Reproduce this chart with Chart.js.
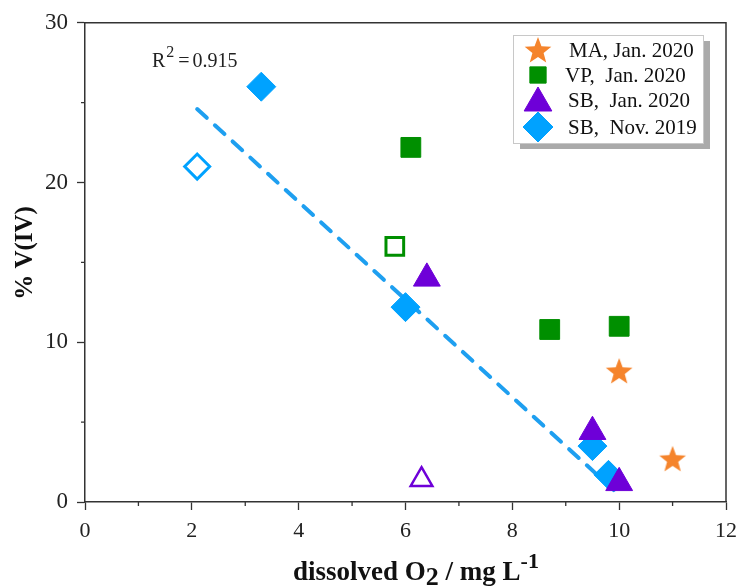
<!DOCTYPE html>
<html>
<head>
<meta charset="utf-8">
<script src="https://cdn.jsdelivr.net/npm/chart.js@4.4.1/dist/chart.umd.min.js"></script>
<style>
  html, body { margin: 0; padding: 0; background: #fff; }
  #wrap { width: 737px; height: 587px; }
</style>
</head>
<body>
<div id="wrap"><canvas id="o2Chart" width="737" height="587"></canvas></div>
<script>
// data
const maX = [10, 11];
const maY = [8.2, 2.7];

const vpX = [6.1, 8.7, 10.0, 5.8];
const vpY = [22.2, 10.8, 11.0, 16.0];
const vpOpen = [false, false, false, true];

const sbJanX = [6.4, 9.5, 10.0, 6.3];
const sbJanY = [14.0, 4.4, 1.2, 1.4];
const sbJanOpen = [false, false, false, true];

const sbNovX = [3.3, 6.0, 9.5, 9.8, 2.1];
const sbNovY = [26.0, 12.2, 3.5, 1.7, 21.0];
const sbNovOpen = [false, false, false, false, true];

// linear fit (dashed line), end points
const fitX = [2.1, 9.9];
const fitY = [24.6, 0.75];

const legendLabels = ['MA, Jan. 2020', 'VP,  Jan. 2020', 'SB,  Jan. 2020', 'SB,  Nov. 2019'];
const xTicks = [0, 2, 4, 6, 8, 10, 12];
const yTicks = [0, 10, 20, 30];
const xMinor = [1, 3, 5, 7, 9, 11];
const yMinor = [5, 15, 25];

const ORANGE = '#f5842c';
const GREEN = '#008f00';
const PURPLE = '#6e00d8';
const BLUE = '#00a2ff';
const SERIF = '"Liberation Serif", "Times New Roman", serif';

function toPoints(xs, ys) {
    return xs.map((x, i) => ({ x: x, y: ys[i] }));
}

// filled five point star as an image
function makeStar(r, color) {
    const c = document.createElement('canvas');
    c.width = c.height = Math.ceil(r * 2 + 2);
    const g = c.getContext('2d');
    const cx = c.width / 2, cy = c.height / 2 + r * 0.08;
    g.beginPath();
    for (let i = 0; i < 10; i++) {
        const rr = i % 2 === 0 ? r : r * 0.42;
        const a = -Math.PI / 2 + i * Math.PI / 5;
        g.lineTo(cx + rr * Math.cos(a), cy + rr * Math.sin(a));
    }
    g.closePath();
    g.fillStyle = color;
    g.fill();
    return c;
}
const starImg = makeStar(14, ORANGE);
const starLegend = makeStar(14, ORANGE);

function fills(open, color) {
    return open.map(o => o ? '#ffffff' : color);
}

// extra drawing: frame, minor ticks, axis titles, R² label, legend box
const decor = {
    id: 'decor',
    afterDraw(chart) {
        const ctx = chart.ctx;
        const a = chart.chartArea;
        const xs = chart.scales.x, ys = chart.scales.y;
        ctx.save();
        ctx.strokeStyle = '#333';
        ctx.lineWidth = 1.5;
        ctx.beginPath();
        ctx.moveTo(a.left, a.top);
        ctx.lineTo(a.right, a.top);
        ctx.lineTo(a.right, a.bottom);
        ctx.stroke();

        // minor ticks
        ctx.lineWidth = 1.3;
        ctx.beginPath();
        xMinor.forEach(v => {
            const px = xs.getPixelForValue(v);
            ctx.moveTo(px, a.bottom);
            ctx.lineTo(px, a.bottom + 4);
        });
        yMinor.forEach(v => {
            const py = ys.getPixelForValue(v);
            ctx.moveTo(a.left, py);
            ctx.lineTo(a.left - 4, py);
        });
        ctx.stroke();

        // y title
        ctx.fillStyle = '#111';
        ctx.font = 'bold 25px ' + SERIF;
        ctx.textAlign = 'center';
        ctx.textBaseline = 'middle';
        ctx.save();
        ctx.translate(26, 253);
        ctx.rotate(-Math.PI / 2);
        ctx.fillText('% V(IV)', 0, 0);
        ctx.restore();

        // x title with subscript / superscript
        const parts = [
            { t: 'dissolved O', f: 'bold 27px ' + SERIF, dy: 0 },
            { t: '2', f: 'bold 26px ' + SERIF, dy: 5 },
            { t: ' / mg L', f: 'bold 27px ' + SERIF, dy: 0 },
            { t: '-1', f: 'bold 22px ' + SERIF, dy: -12 }
        ];
        let total = 0;
        parts.forEach(p => { ctx.font = p.f; p.w = ctx.measureText(p.t).width; total += p.w; });
        let tx = 416 - total / 2;
        const base = 580;
        ctx.textAlign = 'left';
        ctx.textBaseline = 'alphabetic';
        parts.forEach(p => {
            ctx.font = p.f;
            ctx.fillText(p.t, tx, base + p.dy);
            tx += p.w;
        });

        // R² label
        ctx.fillStyle = '#222';
        ctx.font = '20px ' + SERIF;
        let rx = 152;
        ctx.fillText('R', rx, 67);
        rx += ctx.measureText('R').width;
        ctx.font = '16px ' + SERIF;
        ctx.fillText('2', rx + 1, 57);
        rx += ctx.measureText('2').width + 5;
        ctx.font = '20px ' + SERIF;
        ctx.fillText('=', rx, 67);
        rx += ctx.measureText('=').width + 3;
        ctx.fillText('0.915', rx, 67);

        // legend
        const lx = 513, ly = 35, lw = 190, lh = 108;
        ctx.fillStyle = '#aaaaaa';
        ctx.fillRect(lx + 7, ly + 6, lw, lh);
        ctx.fillStyle = '#ffffff';
        ctx.fillRect(lx, ly, lw, lh);
        ctx.strokeStyle = '#c8c8c8';
        ctx.lineWidth = 1;
        ctx.strokeRect(lx + 0.5, ly + 0.5, lw, lh);

        const rows = [50, 75, 100, 127];
        const mx = 538;
        ctx.drawImage(starLegend, mx - starLegend.width / 2, rows[0] - starLegend.height / 2);
        const opts = [
            null,
            { pointStyle: 'rect', radius: 11.5, color: GREEN },
            { pointStyle: 'triangle', radius: 16, color: PURPLE },
            { pointStyle: 'rectRot', radius: 15, color: BLUE }
        ];
        for (let i = 1; i < 4; i++) {
            const o = opts[i];
            ctx.fillStyle = o.color;
            ctx.strokeStyle = o.color;
            ctx.lineWidth = 1;
            Chart.helpers.drawPoint(ctx, { pointStyle: o.pointStyle, radius: o.radius, rotation: 0, borderWidth: 1 }, mx, rows[i] + (i === 2 ? 3 : 0));
        }
        ctx.fillStyle = '#111';
        ctx.font = '21px ' + SERIF;
        ctx.textBaseline = 'middle';
        const textX = [569, 565, 568, 568];
        legendLabels.forEach((t, i) => ctx.fillText(t, textX[i], rows[i] + 1));
        ctx.restore();
    }
};

const ctx = document.getElementById('o2Chart').getContext('2d');
const o2Chart = new Chart(ctx, {
    type: 'scatter',
    data: {
        datasets: [
            {
                label: legendLabels[0],
                data: toPoints(maX, maY),
                pointStyle: starImg,
                pointRadius: 14,
                backgroundColor: ORANGE,
                borderColor: ORANGE
            },
            {
                label: legendLabels[1],
                data: toPoints(vpX, vpY),
                pointStyle: 'rect',
                pointRadius: vpOpen.map(o => o ? 12.5 : 14),
                backgroundColor: fills(vpOpen, GREEN),
                borderColor: GREEN,
                borderWidth: vpOpen.map(o => o ? 3 : 1)
            },
            {
                label: legendLabels[2],
                data: toPoints(sbJanX, sbJanY),
                pointStyle: 'triangle',
                pointRadius: sbJanOpen.map(o => o ? 12.5 : 15.5),
                backgroundColor: fills(sbJanOpen, PURPLE),
                borderColor: PURPLE,
                borderWidth: sbJanOpen.map(o => o ? 2.5 : 1)
            },
            {
                label: legendLabels[3],
                data: toPoints(sbNovX, sbNovY),
                pointStyle: 'rectRot',
                pointRadius: sbNovOpen.map(o => o ? 12.5 : 14.5),
                backgroundColor: fills(sbNovOpen, BLUE),
                borderColor: BLUE,
                borderWidth: sbNovOpen.map(o => o ? 3 : 1)
            },
            {
                label: 'fit',
                data: toPoints(fitX, fitY),
                showLine: true,
                pointRadius: 0,
                borderColor: '#1e9ff0',
                borderWidth: 4,
                borderDash: [13, 11],
                borderCapStyle: 'round',
                fill: false
            }
        ]
    },
    options: {
        responsive: false,
        animation: false,
        layout: { autoPadding: false, padding: { top: 22, right: 11, left: 0, bottom: 0 } },
        plugins: {
            legend: { display: false },
            tooltip: { enabled: false }
        },
        scales: {
            x: {
                type: 'linear',
                min: 0,
                max: 12,
                afterFit: s => { s.height = 85; },
                afterBuildTicks: s => { s.ticks = xTicks.map(v => ({ value: v })); },
                ticks: {
                    color: '#222',
                    font: { family: SERIF, size: 22, lineHeight: 1.95 },
                    padding: 0,
                    maxRotation: 0
                },
                grid: { drawOnChartArea: false, tickLength: 8, tickColor: '#333', tickWidth: 1.3 },
                border: { display: true, color: '#333', width: 1.5 }
            },
            y: {
                min: 0,
                max: 30,
                afterFit: s => { s.width = 85; },
                afterBuildTicks: s => { s.ticks = yTicks.map(v => ({ value: v })); },
                ticks: {
                    color: '#222',
                    font: { family: SERIF, size: 23 },
                    padding: 9
                },
                grid: { drawOnChartArea: false, tickLength: 8, tickColor: '#333', tickWidth: 1.3 },
                border: { display: true, color: '#333', width: 1.5 }
            }
        }
    },
    plugins: [decor]
});
</script>
</body>
</html>
